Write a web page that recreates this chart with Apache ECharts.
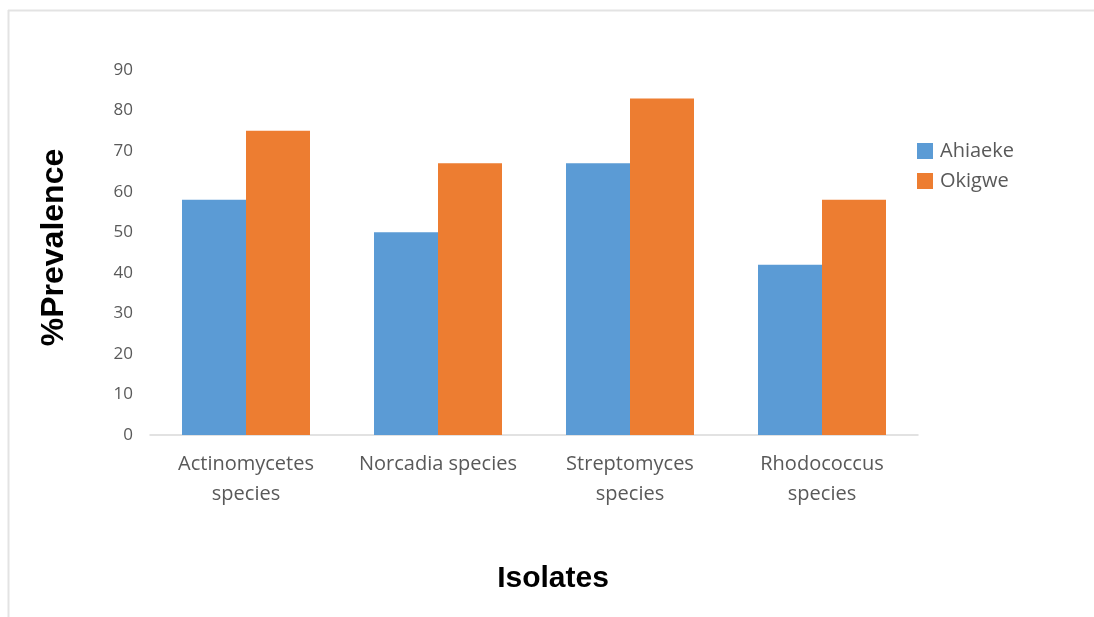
<!DOCTYPE html>
<html>
<head>
<meta charset="utf-8">
<style>
  html, body { margin: 0; padding: 0; background: #ffffff; }
  #chart { width: 1094px; height: 617px; }
</style>
<script src="https://cdn.jsdelivr.net/npm/echarts@6/dist/echarts.min.js"></script>
</head>
<body>
<div id="chart"></div>
<script>
// Prevalence (%) of isolates at two sites
const categories = ['Actinomycetes\nspecies', 'Norcadia species', 'Streptomyces\nspecies', 'Rhodococcus\nspecies'];
const ahiaeke = [58, 50, 67, 42];
const okigwe = [75, 67, 83, 58];
const yTicks = { min: 0, max: 90, interval: 10 };

const labelFont = '"Open Sans", sans-serif';
const titleFont = '"Liberation Sans", Arial, sans-serif';
const chart = echarts.init(document.getElementById('chart'), null, { renderer: 'canvas' });

chart.setOption({
  backgroundColor: '#ffffff',
  animation: false,
  graphic: [
    // frame lines along the top and left edges
    { type: 'line', shape: { x1: 8, y1: 10.5, x2: 1094, y2: 10.5 }, style: { stroke: '#e3e3e3', lineWidth: 2 } },
    { type: 'line', shape: { x1: 8.5, y1: 10, x2: 8.5, y2: 617 }, style: { stroke: '#e3e3e3', lineWidth: 2 } }
  ],
  title: {
    text: 'Isolates',
    left: 553,
    top: 564,
    textAlign: 'center',
    padding: 0,
    textStyle: { fontFamily: titleFont, fontWeight: 'bold', fontSize: 30, color: '#000000' }
  },
  grid: { left: 150, right: 176, top: 70, bottom: 182, containLabel: false },
  legend: {
    orient: 'vertical',
    left: 917,
    top: 141,
    padding: 0,
    itemWidth: 16,
    itemHeight: 16,
    itemGap: 10,
    icon: 'rect',
    textStyle: { fontFamily: labelFont, fontSize: 20, color: '#595959', padding: [0, 0, 0, 2] },
    data: ['Ahiaeke', 'Okigwe']
  },
  xAxis: {
    type: 'category',
    data: categories,
    axisLine: { lineStyle: { color: '#d9d9d9', width: 1.5 } },
    axisTick: { show: false },
    axisLabel: { fontFamily: labelFont, fontSize: 20, color: '#595959', lineHeight: 30, margin: 14, interval: 0 }
  },
  yAxis: {
    type: 'value',
    min: yTicks.min,
    max: yTicks.max,
    interval: yTicks.interval,
    name: '%Prevalence',
    nameLocation: 'middle',
    nameGap: 80,
    nameRotate: 90,
    nameTextStyle: { fontFamily: titleFont, fontWeight: 'bold', fontSize: 32, color: '#000000', padding: [0, 0, 0, 10] },
    axisLine: { show: false },
    axisTick: { show: false },
    splitLine: { show: false },
    axisLabel: { fontFamily: labelFont, fontSize: 17, color: '#595959', margin: 17 }
  },
  series: [
    { name: 'Ahiaeke', type: 'bar', data: ahiaeke, barWidth: 64, barGap: '0%', itemStyle: { color: '#5b9bd5' } },
    { name: 'Okigwe', type: 'bar', data: okigwe, barWidth: 64, barGap: '0%', itemStyle: { color: '#ed7d31' } }
  ]
});
</script>
</body>
</html>
